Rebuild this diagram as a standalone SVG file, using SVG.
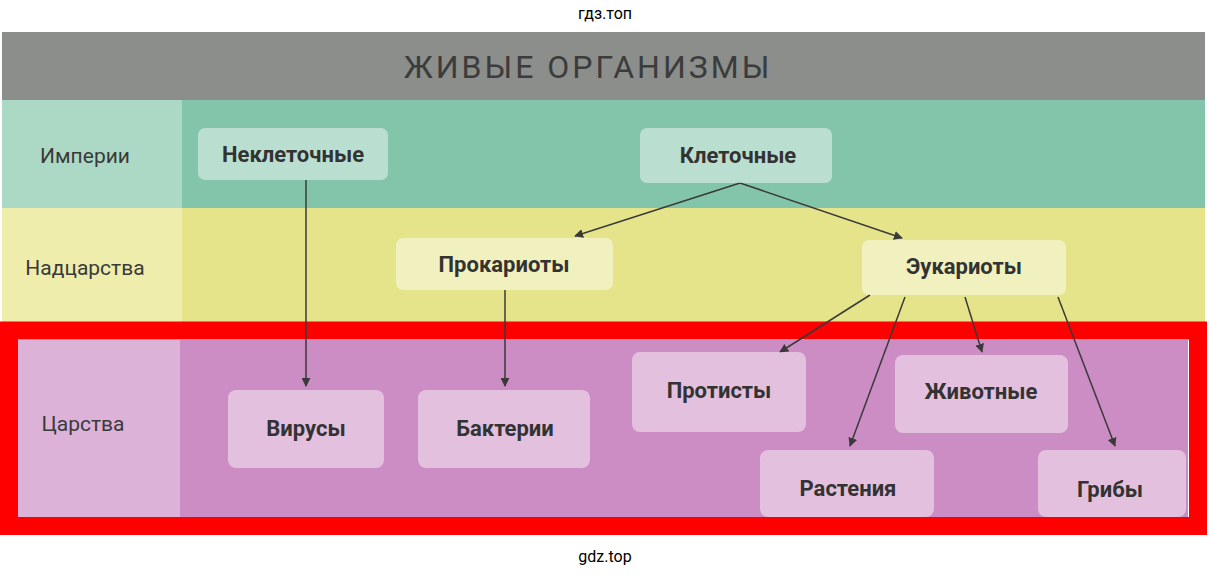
<svg xmlns="http://www.w3.org/2000/svg" width="1211" height="577" viewBox="0 0 1211 577">
<style>
.n rect{fill:#fff;fill-opacity:0.45;}
.n text{font-family:"Roboto","Liberation Sans",sans-serif;font-weight:bold;font-size:22px;fill:#333;text-anchor:middle;}
.lbl{font-family:"Roboto","Liberation Sans",sans-serif;font-size:21px;fill:#3a3a3a;text-anchor:middle;}
.wm{font-family:"Roboto","Liberation Sans",sans-serif;font-size:16px;fill:#000;text-anchor:middle;}
#c line{stroke:#3a3a3a;stroke-width:1.5;marker-end:url(#a);}
</style>
<defs><marker id="a" viewBox="0 0 10 10" refX="9" refY="5" markerWidth="9" markerHeight="9" orient="auto" markerUnits="userSpaceOnUse"><path d="M0,0 L10,5 L0,10 z" fill="#3a3a3a"/></marker></defs>
<rect width="1211" height="577" fill="#fff"/>
<text class="wm" x="605" y="19">гдз.топ</text>
<text class="wm" x="605" y="562">gdz.top</text>
<rect x="2" y="32" width="1203" height="68" fill="#8b8e8b"/>
<text x="588" y="78" font-family="Roboto,'Liberation Sans',sans-serif" font-size="32" fill="#3c3c3c" text-anchor="middle" letter-spacing="3">ЖИВЫЕ ОРГАНИЗМЫ</text>
<rect x="2" y="100" width="1203" height="108" fill="#82c5aa"/>
<rect x="2" y="100" width="180" height="108" fill="#abd9c5"/>
<rect x="2" y="208" width="1203" height="114" fill="#e6e48a"/>
<rect x="2" y="208" width="180" height="114" fill="#eeedab"/>
<rect x="18" y="340" width="1170" height="177" fill="#cc8cc4"/>
<rect x="18" y="340" width="162" height="177" fill="#dcb2d8"/>
<rect x="9" y="330.5" width="1189" height="195.5" fill="none" stroke="#f00" stroke-width="18"/>
<text class="lbl" x="85" y="163">Империи</text>
<text class="lbl" x="85" y="275">Надцарства</text>
<text class="lbl" x="83" y="431">Царства</text>
<g id="c">
<line x1="306" y1="180" x2="306" y2="386"/>
<line x1="505" y1="290" x2="505" y2="386"/>
<line x1="740" y1="183" x2="575" y2="236"/>
<line x1="740" y1="183" x2="902" y2="238"/>
<line x1="870" y1="295" x2="780" y2="352"/>
<line x1="905" y1="297" x2="850" y2="446"/>
<line x1="965" y1="297" x2="982" y2="352"/>
<line x1="1058" y1="297" x2="1115" y2="446"/>
</g>
<g id="n1" class="n"><rect x="198" y="128" width="190" height="52" rx="7"/><text x="293" y="162">Неклеточные</text></g>
<g id="n2" class="n"><rect x="640" y="128" width="192" height="55" rx="7"/><text x="738" y="163">Клеточные</text></g>
<g id="n3" class="n"><rect x="396" y="238" width="217" height="52" rx="7"/><text x="504" y="272">Прокариоты</text></g>
<g id="n4" class="n"><rect x="862" y="240" width="204" height="55" rx="7"/><text x="964" y="274">Эукариоты</text></g>
<g id="n5" class="n"><rect x="228" y="390" width="156" height="78" rx="8"/><text x="306" y="436">Вирусы</text></g>
<g id="n6" class="n"><rect x="418" y="390" width="172" height="78" rx="8"/><text x="505" y="436">Бактерии</text></g>
<g id="n7" class="n"><rect x="632" y="352" width="174" height="80" rx="8"/><text x="719" y="398">Протисты</text></g>
<g id="n8" class="n"><rect x="895" y="355" width="173" height="78" rx="8"/><text x="981" y="399">Животные</text></g>
<g id="n9" class="n"><rect x="760" y="450" width="174" height="67" rx="8"/><text x="848" y="496">Растения</text></g>
<g id="n10" class="n"><rect x="1038" y="450" width="148" height="67" rx="8"/><text x="1110" y="497">Грибы</text></g>
</svg>
